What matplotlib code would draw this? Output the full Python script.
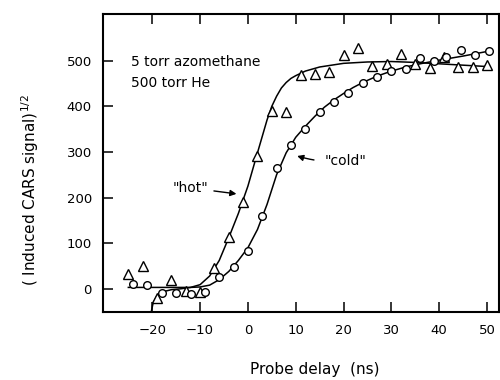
import numpy as np
import matplotlib
matplotlib.use('Agg')
import matplotlib.pyplot as plt

# measured points, "hot" (triangles)
hot_t = [-25, -22, -19, -16, -13, -10, -7, -4, -1, 2, 5, 8, 11, 14, 17, 20,
         23, 26, 29, 32, 35, 38, 41, 44, 47, 50]
hot_s = [33, 51, -20, 19, -5, -8, 45, 113, 190, 292, 390, 387, 468, 470, 476, 513,
         528, 489, 492, 514, 492, 484, 507, 486, 485, 490]

# measured points, "cold" (circles)
cold_t = [-24, -21, -18, -15, -12, -9, -6, -3, 0, 3, 6, 9, 12, 15, 18, 21,
          24, 27, 30, 33, 36, 39, 41.5, 44.5, 47.5, 50.5]
cold_s = [10, 9, -9, -9, -11, -7, 26, 47, 82, 160, 265, 314, 350, 388, 410, 430,
          452, 465, 477, 481, 505, 500, 507, 524, 512, 521]

# fitted curves
hot_fit_t = [-20.2, -19.8, -19, -18, -16, -14, -12, -10, -8, -7, -6, -4, -2, -1, 0,
             2, 4, 5, 6, 7, 8, 9, 10, 11, 12, 15, 20, 25, 30, 35, 40, 45, 50]
hot_fit_s = [-50, -30, -15, -7, -2, 0, 3, 9, 28, 45, 62, 112, 165, 195, 225,
             298, 370, 400, 422, 440, 452, 461, 467, 472, 477, 486, 494, 497, 498, 496, 493, 490, 487]

cold_fit_t = [-25, -20, -15, -12, -10, -8, -6, -4, -2, 0, 2, 4, 6, 8, 10, 12, 14,
              16, 18, 20, 22, 24, 27, 30, 33, 36, 40, 45, 50]
cold_fit_s = [3, 3, 3, 3, 4, 8, 20, 38, 62, 90, 130, 185, 250, 298, 332, 356, 378,
              398, 414, 428, 441, 452, 466, 477, 486, 493, 501, 510, 520]

fig = plt.figure(figsize=(5, 3.8), dpi=100)
ax = fig.add_axes([0.206, 0.18, 0.792, 0.783])

ax.plot(hot_fit_t, hot_fit_s, color='black', lw=1.1)
ax.plot(cold_fit_t, cold_fit_s, color='black', lw=1.1)
ax.plot(hot_t, hot_s, linestyle='none', marker='^', ms=6.5, mfc='white', mec='black', mew=1.0)
ax.plot(cold_t, cold_s, linestyle='none', marker='o', ms=5.5, mfc='white', mec='black', mew=1.0)

ax.set_xlim(-30.3, 52.5)
ax.set_ylim(-50, 602)
ax.set_xticks([-20, -10, 0, 10, 20, 30, 40, 50])
ax.set_yticks([0, 100, 200, 300, 400, 500])

ax.tick_params(axis='both', direction='in', length=7, width=1.1, labelsize=9.5,
               top=True, right=False)
ax.tick_params(axis='x', pad=9)
ax.tick_params(axis='y', pad=8)
for s in ax.spines.values():
    s.set_linewidth(1.5)

ax.text(-24.5, 497, '5 torr azomethane', fontsize=10, va='center')
ax.text(-24.5, 452, '500 torr He', fontsize=10, va='center')

ax.annotate('"hot"', xy=(-2.4, 208), xytext=(-12, 221), fontsize=10,
            ha='center', va='center',
            arrowprops=dict(arrowstyle='-|>', color='black', lw=1.0, shrinkA=2, shrinkB=0,
                            mutation_scale=9))
ax.annotate('"cold"', xy=(10.3, 291), xytext=(20.5, 280), fontsize=10,
            ha='center', va='center',
            arrowprops=dict(arrowstyle='-|>', color='black', lw=1.0, shrinkA=6, shrinkB=0,
                            mutation_scale=9, connectionstyle='arc3,rad=-0.1'))

fig.text(0.63, 0.027, 'Probe delay  (ns)', fontsize=11, ha='center', va='center')
fig.text(0.06, 0.50, '( Induced CARS signal)$^{1/2}$', fontsize=11, rotation=90,
         ha='center', va='center')

fig.savefig('out.png', dpi=100)
